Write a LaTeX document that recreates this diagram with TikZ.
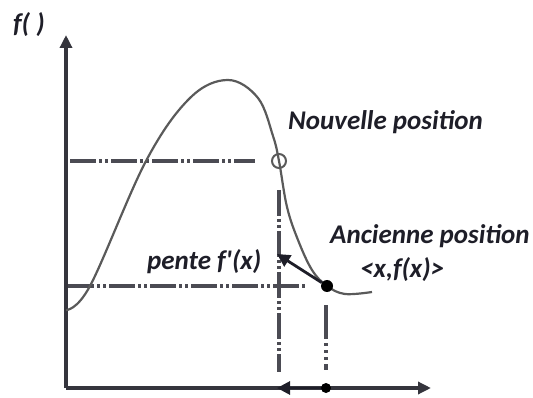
\documentclass[tikz,border=0pt]{standalone}
\usepackage{fontspec}
\setmainfont{Carlito}[Ligatures=TeXOff]
\usepackage{tikz}
\usetikzlibrary{arrows.meta}
\definecolor{ink}{HTML}{1E1E28}
\definecolor{curvegray}{HTML}{5A5A5A}

\begin{document}
\begin{tikzpicture}[x=1pt,y=-1pt,caption/.style={text=ink,font=\fontsize{27}{31}\selectfont\bfseries\itshape,inner sep=0pt,anchor=west},axis/.style={-{Triangle[length=13pt,width=12pt]},draw=ink!90,line width=3.4pt},guide/.style={draw=ink!80,line width=3.2pt,dash pattern=on 26pt off 3pt on 3pt off 3pt on 3pt off 3pt},moveto/.style={-{Triangle[length=13pt,width=13pt]},draw=ink,line width=2.8pt}]
\useasboundingbox (0,0) rectangle (533,398);
\coordinate (origin) at (66,388);
\coordinate (ytip) at (66,35);
\coordinate (xtip) at (431,388);
\coordinate (old) at (327,286);
\coordinate (new) at (279,161);
\coordinate (oldx) at (326,388);
\coordinate (newx) at (277,388);
\coordinate (slopetip) at (277,254);
% axes
\draw[axis] (origin) -- (ytip);
\draw[axis] (origin) -- (xtip);
% guides
\coordinate (hnewA) at (70,161);
\coordinate (hnewB) at (255,161);
\coordinate (holdA) at (68,286);
\coordinate (holdB) at (305,286);
\coordinate (vnewA) at (279,190);
\coordinate (vnewB) at (279,372);
\coordinate (voldA) at (326,305);
\coordinate (voldB) at (326,370);
\draw[guide] (hnewA) -- (hnewB);
\draw[guide] (holdA) -- (holdB);
\draw[guide] (vnewA) -- (vnewB);
\draw[guide,dash pattern=on 34pt off 4pt on 3pt off 4pt on 3pt off 4pt on 3pt off 4pt] (voldA) -- (voldB);
% function
\draw[curvegray,line width=2.2pt] plot[smooth,tension=0.6] coordinates {(66,310) (90,286) (146,161) (190,98) (228,80) (258,98) (273,136) (279,161) (287,207) (298,240) (312,270) (327,286) (345,294) (372,292)};
\node[circle,draw=curvegray,line width=2pt,minimum size=14pt,inner sep=0pt] (newmark) at (new) {};
\node[circle,fill=black,minimum size=12pt,inner sep=0pt] (oldmark) at (old) {};
\node[circle,fill=black,minimum size=10pt,inner sep=0pt] (oldxmark) at (oldx) {};
% moves
\draw[moveto] (oldmark) -- (slopetip);
\draw[moveto] (oldxmark) -- (newx);
% labels
\node[caption] (fname) at (13,25) {f( )};
\node[caption] (newlabel) at (288,122) {Nouvelle position};
\node[caption] (oldlabel) at (330,236) {Ancienne position};
\node[caption] (oldpoint) at (360,270) {<x,f(x)>};
\node[caption] (slopelabel) at (147,262) {pente f'(x)};
\end{tikzpicture}
\end{document}
